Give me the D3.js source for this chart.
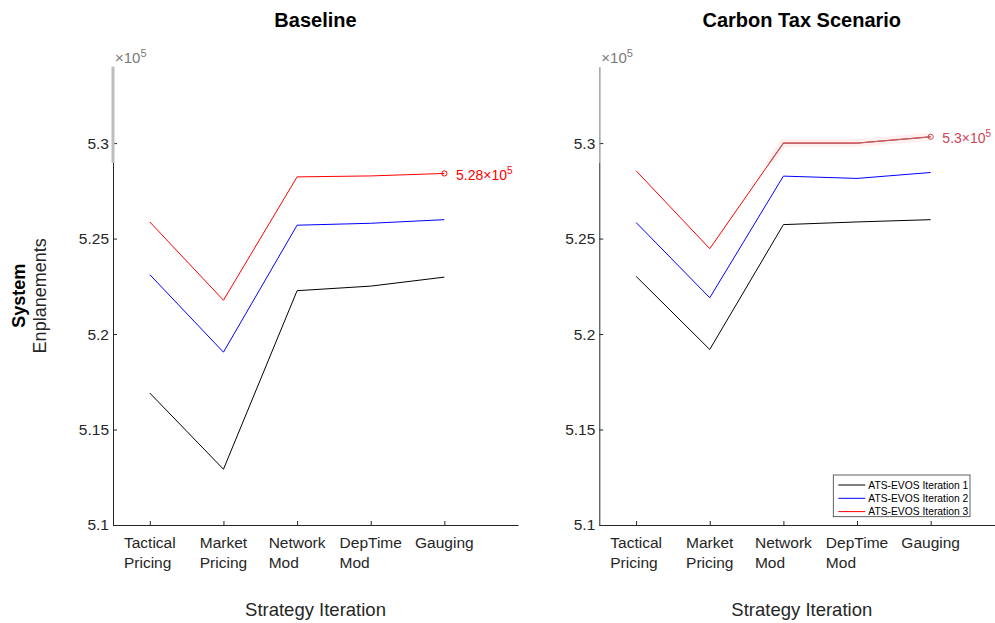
<!DOCTYPE html>
<html>
<head>
<meta charset="utf-8">
<script src="https://cdn.jsdelivr.net/npm/d3@7"></script>
<style>
  body { margin: 0; background: #fff; }
  svg { display: block; font-family: "Liberation Sans", Arial, sans-serif; }
</style>
</head>
<body>
<div id="chart"></div>
<script>
// categories and series (enplanements)
const strategies = [["Tactical", "Pricing"], ["Market", "Pricing"], ["Network", "Mod"], ["DepTime", "Mod"], ["Gauging"]];
const seriesNames = ["ATS-EVOS Iteration 1", "ATS-EVOS Iteration 2", "ATS-EVOS Iteration 3"];
const seriesColors = ["#000000", "#0000ff", "#ff0000"];

const baseIter1 = [516910, 512920, 522270, 522510, 522980];
const baseIter2 = [523110, 519050, 525700, 525800, 525990];
const baseIter3 = [525870, 521770, 528230, 528280, 528410];

const taxIter1 = [523020, 519190, 525730, 525870, 525990];
const taxIter2 = [525840, 521900, 528270, 528150, 528460];
const taxIter3 = [528550, 524470, 530000, 530000, 530330];

const yTicks = [510000, 515000, 520000, 525000, 530000];
const yDomain = [510000, 534000];
const xDomain = [0.5, 6];

const panels = [
    { title: "Baseline", series: [baseIter1, baseIter2, baseIter3], left: 113, note: ["5.28", "5"], legend: false, faded: false },
    { title: "Carbon Tax Scenario", series: [taxIter1, taxIter2, taxIter3], left: 599.3, note: ["5.3", "5"], legend: true, faded: true }
];

//set dimensions
const width = 995,
    height = 623,
    plotTop = 66.7,
    plotBottom = 525,
    plotWidth = 405,
    bandBottom = 163;   // faded band near the top of the axes

const axisColor = "#262626";
const font = "'Liberation Sans', Arial, sans-serif";

const svg = d3.select("#chart")
    .append("svg")
    .attr("width", width)
    .attr("height", height);

const defs = svg.append("defs");

const yScale = d3.scaleLinear()
    .domain(yDomain)
    .range([plotBottom, plotTop]);

panels.forEach((p, pi) => {
    const xScale = d3.scaleLinear()
        .domain(xDomain)
        .range([p.left, p.left + plotWidth]);
    const cx = p.left + plotWidth / 2;

    // title
    svg.append("text")
        .attr("x", cx)
        .attr("y", 26.7)
        .attr("text-anchor", "middle")
        .style("font-size", "20px")
        .style("font-weight", "bold")
        .style("fill", "#000")
        .text(p.title);

    // x axis label
    svg.append("text")
        .attr("x", cx)
        .attr("y", 616)
        .attr("text-anchor", "middle")
        .style("font-size", "18.5px")
        .style("fill", axisColor)
        .text("Strategy Iteration");

    // y axis (ticks inside)
    const yAxis = d3.axisLeft(yScale)
        .tickValues(yTicks)
        .tickSizeInner(-4)
        .tickSizeOuter(0)
        .tickPadding(4)
        .tickFormat(d => d3.format("")(+(d / 1e5).toFixed(2)));
    const gy = svg.append("g")
        .attr("transform", `translate(${p.left},0)`)
        .call(yAxis);
    gy.selectAll("text")
        .style("font-family", font)
        .style("font-size", "15.5px")
        .style("fill", axisColor);
    gy.selectAll("line, path").attr("stroke", axisColor);

    // x axis (ticks inside)
    const xAxis = d3.axisBottom(xScale)
        .tickValues(d3.range(1, strategies.length + 1))
        .tickSizeInner(-4)
        .tickSizeOuter(0)
        .tickFormat("");
    const gx = svg.append("g")
        .attr("transform", `translate(0,${plotBottom})`)
        .call(xAxis);
    gx.selectAll("line, path").attr("stroke", axisColor);

    // multi-line category labels: block centred on tick, lines left aligned
    strategies.forEach((lines, i) => {
        const t = svg.append("text")
            .style("font-size", "15.5px")
            .style("fill", axisColor)
            .attr("text-anchor", "start");
        lines.forEach((ln, k) => {
            t.append("tspan").attr("y", 548.3 + k * 20).text(ln);
        });
        let maxW = 0;
        t.selectAll("tspan").each(function() {
            maxW = Math.max(maxW, this.getComputedTextLength());
        });
        t.selectAll("tspan").attr("x", xScale(i + 1) - maxW / 2);
    });

    // faded band over top of axis
    if (!p.faded) {
        svg.append("rect")
            .attr("x", p.left - 1.5)
            .attr("y", plotTop)
            .attr("width", 3)
            .attr("height", bandBottom - plotTop)
            .attr("fill", "#bdbdbd");
    } else {
        svg.append("rect")
            .attr("x", p.left - 1)
            .attr("y", plotTop)
            .attr("width", 2)
            .attr("height", bandBottom - plotTop)
            .attr("fill", "#fff")
            .attr("opacity", 0.45);
    }

    // exponent label
    const ex = svg.append("text")
        .attr("x", p.left + 2)
        .attr("y", 62.7)
        .style("font-size", "15px")
        .style("fill", "#7a7a7a");
    ex.append("tspan").text("\u00d710");
    ex.append("tspan").attr("dy", -6).style("font-size", "11px").text("5");

    // lines
    const line = d3.line()
        .x((d, i) => xScale(i + 1))
        .y(d => yScale(d));

    const clipId = "band-" + pi;
    defs.append("clipPath").attr("id", clipId)
        .append("rect")
        .attr("x", p.left + 1)
        .attr("y", plotTop - 10)
        .attr("width", plotWidth)
        .attr("height", bandBottom - plotTop + 10);

    p.series.forEach((vals, si) => {
        svg.append("path")
            .datum(vals)
            .attr("d", line)
            .attr("fill", "none")
            .attr("stroke", seriesColors[si])
            .attr("stroke-width", 1);
        if (p.faded && si === 2) {
            svg.append("path")
                .datum(vals)
                .attr("d", line)
                .attr("fill", "none")
                .attr("clip-path", `url(#${clipId})`)
                .attr("stroke", "rgba(255,0,0,0.06)")
                .attr("stroke-width", 8);
            svg.append("path")
                .datum(vals)
                .attr("d", line)
                .attr("fill", "none")
                .attr("clip-path", `url(#${clipId})`)
                .attr("stroke", "#b8666c")
                .attr("stroke-width", 1.2);
        }
    });

    // annotation on last point of top series
    const top = p.series[2];
    const lx = xScale(top.length), ly = yScale(top[top.length - 1]);
    const noteColor = p.faded ? "#cf4555" : "#ff0000";
    svg.append("circle")
        .attr("cx", lx)
        .attr("cy", ly)
        .attr("r", 2.6)
        .attr("fill", "none")
        .attr("stroke", noteColor)
        .attr("stroke-width", 1);
    const nt = svg.append("text")
        .attr("x", lx + 11.7)
        .attr("y", ly + 6.7)
        .style("font-size", "14px")
        .style("fill", noteColor);
    nt.append("tspan").text(p.note[0] + "\u00d710");
    nt.append("tspan").attr("dy", -6).style("font-size", "10px").text(p.note[1]);

    // legend
    if (p.legend) {
        const lg = svg.append("g").attr("transform", "translate(833.3,475)");
        lg.append("rect")
            .attr("width", 136.7)
            .attr("height", 41.7)
            .attr("fill", "#fff")
            .attr("stroke", "#3a3a3a")
            .attr("stroke-width", 0.8);
        seriesNames.forEach((name, i) => {
            const yy = 10 + i * 13.3;
            lg.append("line")
                .attr("x1", 5).attr("x2", 32)
                .attr("y1", yy).attr("y2", yy)
                .attr("stroke", seriesColors[i])
                .attr("stroke-width", 1);
            lg.append("text")
                .attr("x", 35)
                .attr("y", yy)
                .attr("dy", "0.35em")
                .style("font-size", "10.3px")
                .style("fill", "#000")
                .text(name);
        });
    }
});

// y axis title (two lines)
const yt = svg.append("text")
    .attr("transform", `translate(0,${(plotTop + plotBottom) / 2}) rotate(-90)`)
    .attr("text-anchor", "middle")
    .style("font-size", "18px")
    .style("fill", "#000");
yt.append("tspan").attr("x", 0).attr("y", 25).style("font-weight", "bold").text("System");
yt.append("tspan").attr("x", 0).attr("y", 46).style("fill", axisColor).text("Enplanements");
</script>
</body>
</html>
